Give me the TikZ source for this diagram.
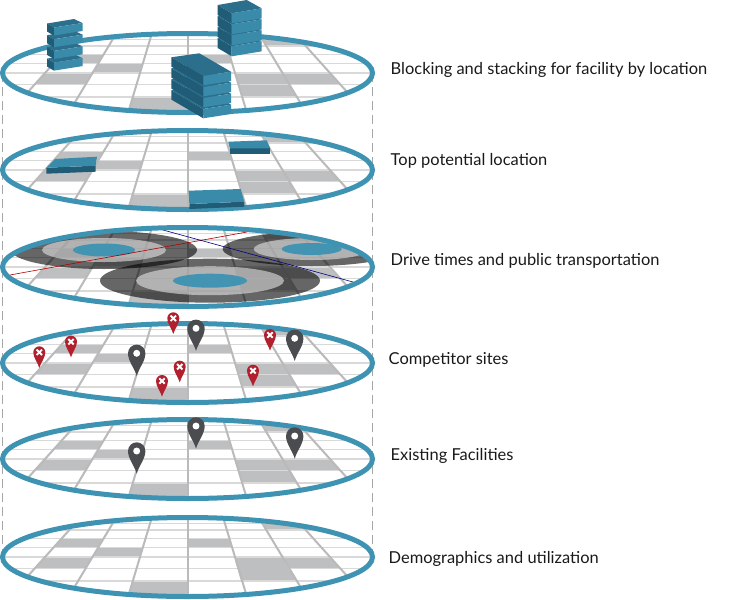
\documentclass[tikz,border=0pt]{standalone}
\usepackage{fontspec}
\setmainfont{Lato}
\usetikzlibrary{positioning}
\usetikzlibrary{shapes.geometric}
\usetikzlibrary{backgrounds}
\definecolor{rimblue}{HTML}{3E93B2}
\definecolor{topblue}{HTML}{2C6F8D}
\definecolor{sideblue}{HTML}{3A8BAA}
\definecolor{deepblue}{HTML}{215C77}
\definecolor{cellgray}{HTML}{BEBFC1}
\definecolor{pingray}{HTML}{4A4C4F}
\definecolor{pinred}{HTML}{B2202E}
\tikzset{
	disk/.style={
		shape=ellipse,
		draw=rimblue,
		line width=5pt,
		minimum width=370pt,
		minimum height=79pt,
		inner sep=0pt,
		outer sep=0pt},
	caption/.style={
		inner sep=0pt,
		text=black!90,
		font=\fontsize{16.45}{18}\selectfont},
	guideline/.style={
		draw=black!35,
		line width=0.8pt,
		dash pattern=on 9pt off 5pt},
	rowline/.style={draw=black!15, line width=1.2pt},
	colline/.style={draw=black!27, line width=2pt},
	pics/graypin/.style={code={
		\fill[pingray] (0,2.6) .. controls (-.25,1.7) and (-1,.9) .. (-1,0)
			.. controls (-1,-.55) and (-.55,-1) .. (0,-1)
			.. controls (.55,-1) and (1,-.55) .. (1,0)
			.. controls (1,.9) and (.25,1.7) .. (0,2.6) -- cycle;
		\fill[white] (0,0) circle (.4);
	}},
	pics/redpin/.style={code={
		\fill[pinred] (0,2.6) .. controls (-.25,1.7) and (-1,.9) .. (-1,0)
			.. controls (-1,-.55) and (-.55,-1) .. (0,-1)
			.. controls (.55,-1) and (1,-.55) .. (1,0)
			.. controls (1,.9) and (.25,1.7) .. (0,2.6) -- cycle;
		\draw[white, line width=1.9pt] (-.45,-.45) -- (.45,.45) (-.45,.45) -- (.45,-.45);
	}}
}
\newcommand{\gridcell}[4]{
	\fill[cellgray] ({#1*(47.5+.3*(#3))},#3) -- ({#2*(47.5+.3*(#3))},#3)
		-- ({#2*(47.5+.3*(#4))},#4) -- ({#1*(47.5+.3*(#4))},#4) -- cycle;
}
\newcommand{\griddisk}[1]{
	\begin{scope}[shift={(187.5,#1)}]
		\clip (0,0) ellipse (185pt and 39.5pt);
		\fill[white] (0,0) ellipse (185pt and 39.5pt);
		\gridcell{2}{3}{-42}{-27}
		\gridcell{-3}{-2}{-18.7}{-9.3}
		\gridcell{0}{1}{-18.7}{-9.3}
		\gridcell{-2}{-1}{-9.3}{0}
		\gridcell{-3}{-2}{0}{11.3}
		\gridcell{1}{3}{0}{11.3}
		\gridcell{1}{2}{11.3}{24}
		\gridcell{-1}{0}{24}{42}
		\foreach \rowy in {-33.7,-27,-18.7,-9.3,0,11.3,24}
			\draw[rowline] (-190,\rowy) -- (190,\rowy);
		\foreach \colk in {-3,...,3}
			\draw[colline] ({\colk*(47.5-.3*42)},-42) -- ({\colk*(47.5+.3*42)},42);
	\end{scope}
}
\newcommand{\slabstack}[6]{
	\foreach \n in {3,2,1,0}{
		\begin{scope}[shift={(0,\n*#6)}]
			\fill[topblue] (#1) -- (#2) -- (#3) -- (#4) -- cycle;
			\fill[deepblue] (#1) -- (#4) -- ([shift={(0,#5)}]#4) -- ([shift={(0,#5)}]#1) -- cycle;
			\fill[sideblue] (#4) -- (#3) -- ([shift={(0,#5)}]#3) -- ([shift={(0,#5)}]#4) -- cycle;
		\end{scope}
	}
}
\newcommand{\plate}[5]{
	\fill[deepblue] (#4) -- (#3) -- ([shift={(0,#5)}]#3) -- ([shift={(0,#5)}]#4) -- cycle;
	\fill[sideblue] (#1) -- (#2) -- (#3) -- (#4) -- cycle;
}
\newcommand{\drivering}[8]{
	\fill[black, fill opacity=.6] (#1,#2) ellipse (#3pt and #4pt);
	\fill[black!10, fill opacity=.6] (#1,#2) ellipse (#5pt and #6pt);
	\fill[rimblue, fill opacity=.95] (#1,#2) ellipse (#7pt and #8pt);
}

\begin{document}
\begin{tikzpicture}[x=1pt, y=-1pt]
	\useasboundingbox (0,0) rectangle (750,600);

	\griddisk{73}
	\griddisk{170}
	\griddisk{267}
	\griddisk{363}
	\griddisk{459}
	\griddisk{557}

	% last disk has one wider block
	\begin{scope}[shift={(187.5,557)}]
		\gridcell{1}{2}{5}{14}
		\draw[colline] ({1*(47.5+.3*5)},5) -- ({1*(47.5+.3*24)},24);
	\end{scope}

	% drive time rings
	\begin{scope}
		\clip (187.5,267) ellipse (185pt and 39.5pt);
		\drivering{104}{250}{93}{19}{62}{12}{31}{6.5}
		\drivering{311.7}{249}{89}{17}{58}{11}{30}{6}
		\drivering{210}{280.7}{110}{22}{74}{14.5}{37}{7}
		\draw[red!70!black, line width=.6pt] (10,275) -- (247,232);
		\draw[blue!50!black, line width=.6pt] (163,230) -- (353,282);
	\end{scope}

	\node[disk] (disk1) at (187.5,73) {};
	\node[disk] (disk2) at (187.5,170) {};
	\node[disk] (disk3) at (187.5,267) {};
	\node[disk] (disk4) at (187.5,363) {};
	\node[disk] (disk5) at (187.5,459) {};
	\node[disk] (disk6) at (187.5,557) {};

	\begin{scope}[on background layer]
		\draw[guideline] (disk1.west) -- (disk6.west);
		\draw[guideline] (disk1.east) -- (disk6.east);
	\end{scope}

	\slabstack{47,23.5}{74,19}{82.5,23}{54,27.5}{8}{11.7}
	\slabstack{217.7,5}{246.7,0}{261.7,8.3}{231.7,13.3}{10}{11}
	\slabstack{171.3,57.3}{199.3,53.3}{231,71.7}{203.3,76}{9.3}{11}

	\plate{55,159}{97,156.7}{95.7,165.7}{46.3,167.7}{6}
	\plate{228.3,141.7}{266.7,140.3}{270.3,148.3}{229.7,148.3}{5.7}
	\plate{188.7,190.7}{240.7,189}{244.3,201.7}{189.3,204}{5}

	\pic[scale=8.7] (gray1) at (196,328.3) {graypin};
	\pic[scale=8.7] (gray2) at (136.7,353.3) {graypin};
	\pic[scale=8.7] (gray3) at (294.7,338.3) {graypin};
	\pic[scale=6] (red1) at (173.3,318.3) {redpin};
	\pic[scale=6] (red2) at (71,341.7) {redpin};
	\pic[scale=6] (red3) at (39.3,352.3) {redpin};
	\pic[scale=6] (red4) at (270,335) {redpin};
	\pic[scale=6] (red5) at (179.7,366.7) {redpin};
	\pic[scale=6] (red6) at (162,381) {redpin};
	\pic[scale=6] (red7) at (253,370.7) {redpin};

	\pic[scale=8.7] (gray4) at (196,426) {graypin};
	\pic[scale=8.7] (gray5) at (136.7,451) {graypin};
	\pic[scale=8.7] (gray6) at (294.7,436) {graypin};

	\node[caption, right=18pt of disk1.east, yshift=3.5pt] (label1) {Blocking and stacking for facility by location};
	\node[caption, right=18pt of disk2.east, yshift=9.5pt] (label2) {Top potential location};
	\node[caption, right=18pt of disk3.east, yshift=6.5pt] (label3) {Drive times and public transportation};
	\node[caption, right=16pt of disk4.east, yshift=3.5pt] (label4) {Competitor sites};
	\node[caption, right=18pt of disk5.east, yshift=3.5pt] (label5) {Existing Facilities};
	\node[caption, right=16pt of disk6.east, yshift=-1.5pt] (label6) {Demographics and utilization};
\end{tikzpicture}
\end{document}
